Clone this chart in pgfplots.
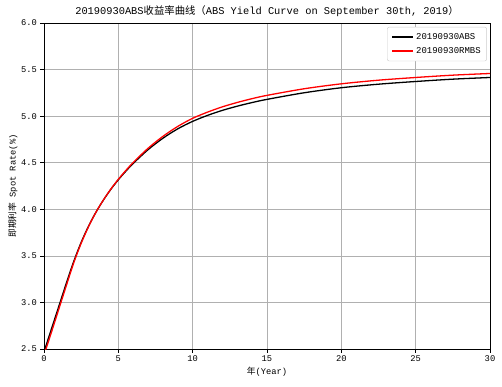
\documentclass[border=0pt]{standalone}
\usepackage{fontspec}
\setmainfont{Liberation Mono}
\newfontfamily\cjk{Noto Sans CJK SC}
\usepackage{pgfplots}
\pgfplotsset{compat=1.18}
\begin{document}
\begin{tikzpicture}
\begin{axis}[
  scale only axis, width=446bp, height=326bp,
  xmin=0, xmax=30, ymin=2.5, ymax=6,
  xtick={0,5,...,30}, ytick={2.5,3.0,...,6.0},
  yticklabel style={/pgf/number format/fixed,/pgf/number format/fixed zerofill,/pgf/number format/precision=1},
  /pgf/number format/assume math mode=true,
  xtick pos=bottom, ytick pos=left,
  grid=major, major grid style={color=black!31, line width=0.6pt},
  tick align=outside, major tick length=3.5bp, tick style={black, line width=0.6pt},
  axis line style={line width=0.8pt},
  tick label style={font=\fontsize{8.8}{10}\selectfont},
  label style={font=\fontsize{8.8}{10}\selectfont},
  title style={font=\fontsize{10.4}{12}\selectfont, yshift=-3bp},
  title={20190930ABS{\cjk 收益率曲线（}ABS Yield Curve on September 30th, 2019{\cjk ）}},
  xlabel={{\cjk 年}(Year)}, ylabel={{\cjk 即期利率} Spot Rate(\%)},
  xlabel style={yshift=2bp}, ylabel style={yshift=-3bp},
  legend style={at={(0.993,0.988)}, anchor=north east, draw=black!20, rounded corners=2pt,
    font=\fontsize{9}{10}\selectfont, inner xsep=4pt, inner ysep=4pt, row sep=3pt},
  legend cell align=left,
  legend image code/.code={\draw[#1,line width=1.6pt] (0cm,0cm) -- (0.75cm,0cm);},
]
\addplot[black, line width=1.3pt, smooth] coordinates {
(0,2.47) (0.5,2.715) (1,2.96) (1.5,3.205) (2,3.44) (2.5,3.645) (3,3.82) (3.5,3.97)
(4,4.10) (4.5,4.215) (5,4.317) (5.5,4.408) (6,4.492) (7,4.64) (8,4.763) (9,4.864)
(10,4.944) (11,5.008) (12,5.062) (13,5.107) (14,5.146) (15,5.18) (17.5,5.251)
(20,5.305) (22.5,5.343) (25,5.372) (27.5,5.397) (30,5.415)};
\addlegendentry{20190930ABS}
\addplot[red, line width=1.3pt, smooth] coordinates {
(0,2.435) (0.5,2.68) (1,2.93) (1.5,3.18) (2,3.425) (2.5,3.635) (3,3.815) (3.5,3.97)
(4,4.101) (4.5,4.218) (5,4.322) (5.5,4.416) (6,4.502) (7,4.655) (8,4.783) (9,4.89)
(10,4.977) (11,5.043) (12,5.10) (13,5.147) (14,5.188) (15,5.223) (17.5,5.294)
(20,5.347) (22.5,5.386) (25,5.415) (27.5,5.44) (30,5.458)};
\addlegendentry{20190930RMBS}
\end{axis}
\pgfresetboundingbox
\path ([xshift=-44bp,yshift=-38bp]current axis.south west) rectangle ([xshift=12bp,yshift=23bp]current axis.north east);
\end{tikzpicture}
\end{document}
